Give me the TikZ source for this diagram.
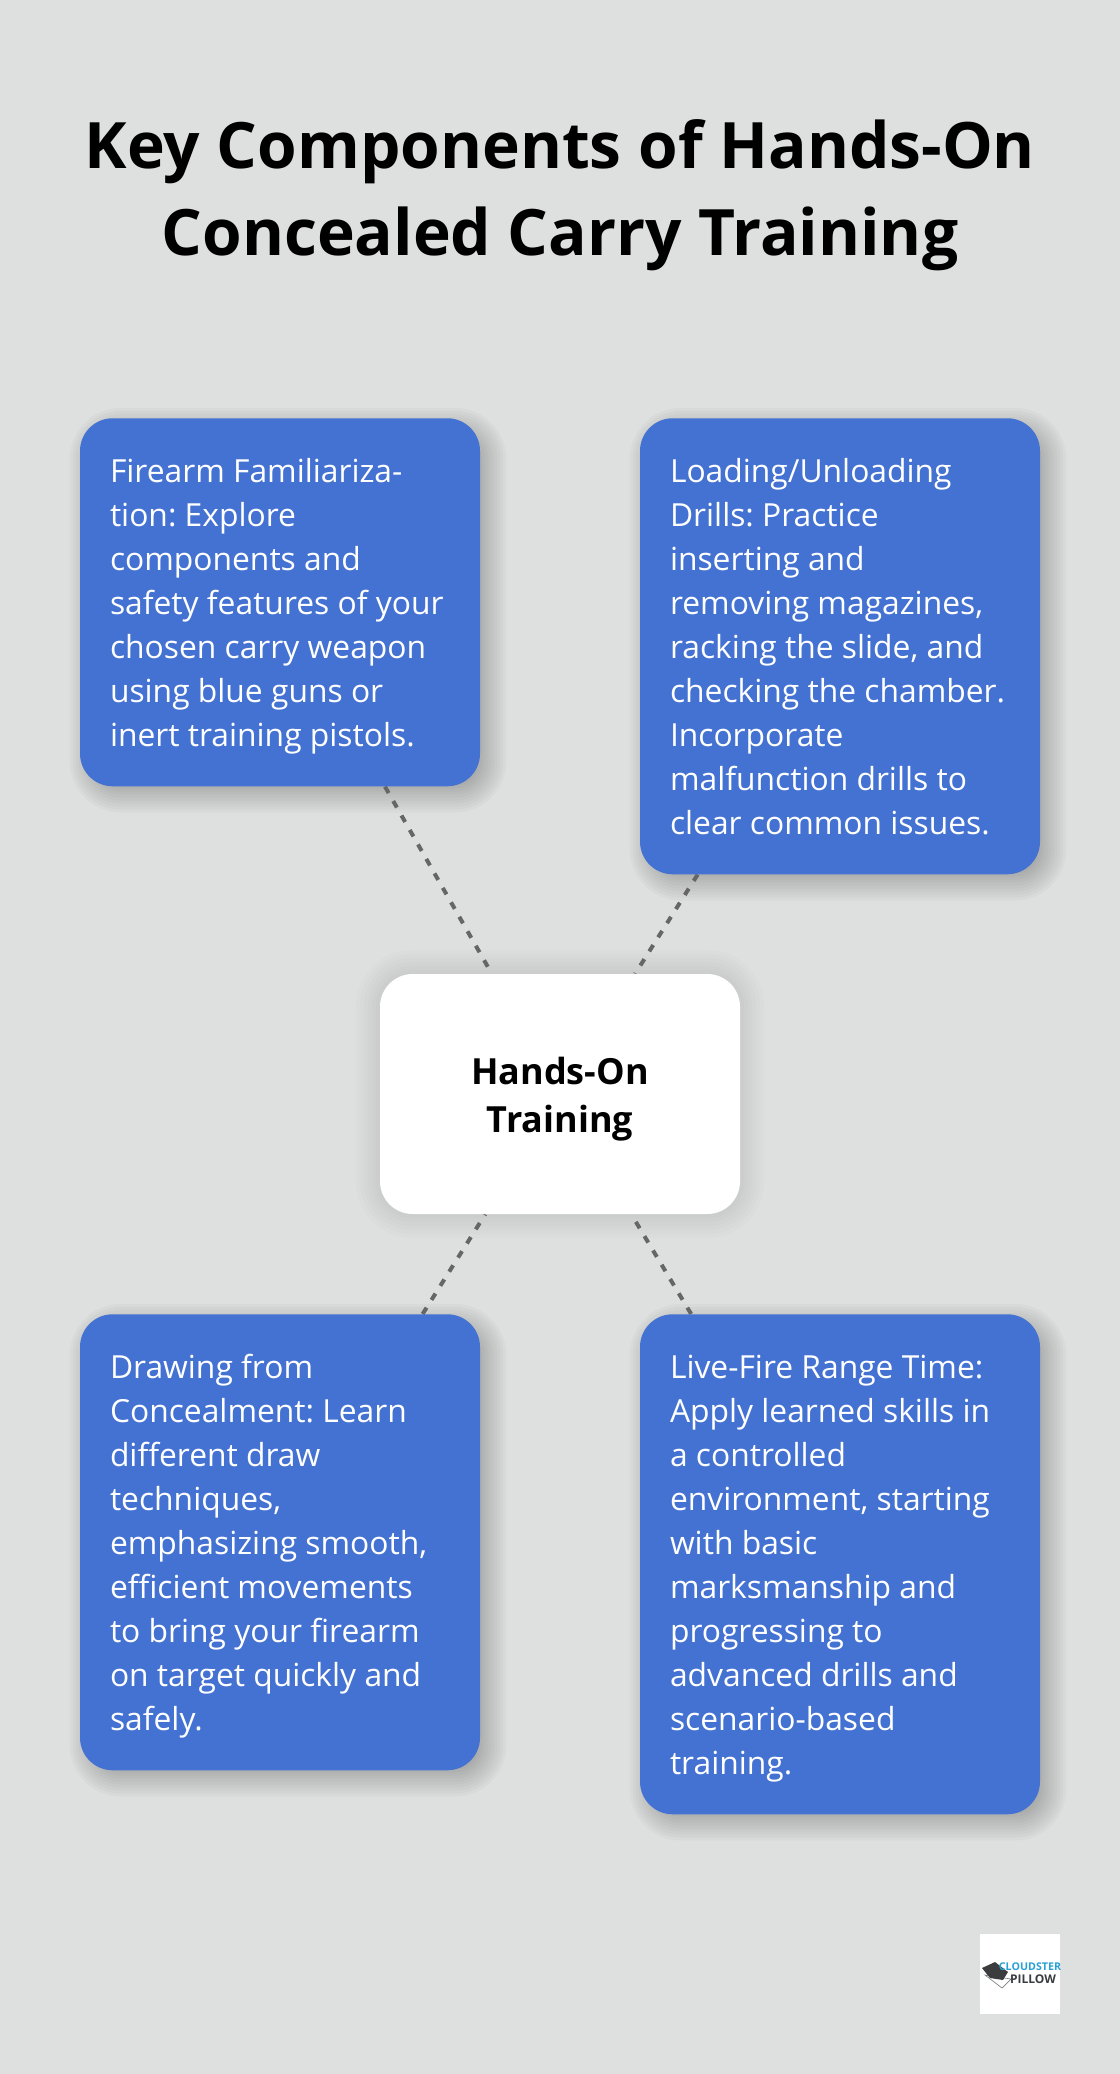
\documentclass[tikz,border=0pt]{standalone}
\usepackage{fontspec}
\setmainfont{Open Sans}
\usepackage{tikz}
\usetikzlibrary{calc}
\usetikzlibrary{backgrounds}
\definecolor{pagegray}{HTML}{DEE0DF}
\definecolor{cardblue}{HTML}{4472D2}
\definecolor{dashgray}{HTML}{666666}
\definecolor{logoblue}{HTML}{2A9FD6}
\definecolor{logodark}{HTML}{3A3C3E}
\tikzset{
	card/.style={fill=cardblue,text=white,rounded corners=24.5pt,text width=255pt,inner sep=0pt,inner xsep=22.5pt,align=flush left,anchor=north,font=\fontsize{23.85}{33}\selectfont\frenchspacing,
		execute at begin node={\rule{0pt}{25.4pt}},execute at end node={\rule[-7.6pt]{0pt}{7.6pt}}},
	hub/.style={fill=white,rounded corners=24.5pt,text width=270pt,minimum height=180pt,inner sep=0pt,align=center,font=\fontsize{27}{36}\selectfont\bfseries,
		execute at begin node={\rule{0pt}{28.5pt}},execute at end node={\rule[-7.5pt]{0pt}{7.5pt}}},
	link/.style={draw=dashgray,line width=3pt,dash pattern=on 5.6pt off 6.9pt}
}
% soft shadow: node, x offset, y offset, spread, opacity of one layer
\newcommand{\softshadow}[5]{
	\foreach \s in {-12,-10,...,12} {
		\pgfmathsetmacro{\d}{\s*#4}
		\pgfmathsetmacro{\r}{max(1,(33+\d)*0.75)}
		\fill[black,fill opacity=#5,rounded corners=\r pt] ($(#1.north west)+(#2-\d,#3-\d)$) rectangle ($(#1.south east)+(#2+\d,#3+\d)$);
	}
}
\begin{document}
\begin{tikzpicture}[x=0.75pt,y=-0.75pt]
	\useasboundingbox (0,0) rectangle (1120,2074);

	\node[align=center,font=\fontsize{48}{65}\selectfont\bfseries] (title) at (560,195) {Key Components of Hands-On\\Concealed Carry Training};

	\coordinate (firepos) at (280,418);
	\coordinate (loadpos) at (840,418);
	\coordinate (drawpos) at (280,1314);
	\coordinate (rangepos) at (840,1314);

	\node[card,minimum height=276pt] (fire) at (firepos) {Firearm Familiariza-\\tion: Explore\\components and\\safety features of your\\chosen carry weapon\\using blue guns or\\inert training pistols.};
	\node[card,minimum height=342pt] (load) at (loadpos) {Loading/Unloading\\Drills: Practice\\inserting and\\removing magazines,\\racking the slide, and\\checking the chamber.\\Incorporate\\malfunction drills to\\clear common issues.};
	\node[card,minimum height=342pt] (draw) at (drawpos) {Drawing from\\Concealment: Learn\\different draw\\techniques,\\emphasizing smooth,\\efficient movements\\to bring your firearm\\on target quickly and\\safely.};
	\node[card,minimum height=375pt] (range) at (rangepos) {Live-Fire Range Time:\\Apply learned skills in\\a controlled\\environment, starting\\with basic\\marksmanship and\\progressing to\\advanced drills and\\scenario-based\\training.};
	\node[hub] (center) at (560,1094) {Hands-On\\Training};

	\begin{scope}[on background layer]
		\fill[pagegray] (0,0) rectangle (1120,2074);
		\softshadow{fire}{8}{8}{1.5}{0.025}
		\softshadow{load}{8}{8}{1.5}{0.025}
		\softshadow{draw}{8}{8}{1.5}{0.025}
		\softshadow{range}{8}{8}{1.5}{0.025}
		\softshadow{center}{0}{0}{2}{0.012}
		\draw[link] (fire) -- (center);
		\draw[link] (load) -- (center);
		\draw[link] (draw) -- (center);
		\draw[link] (range) -- (center);
	\end{scope}

	% logo in the corner
	\node[fill=white,minimum size=60pt,inner sep=0pt] (logo) at (1020,1974) {};
	\draw[gray,fill=white,line width=0.5pt] (985,1975) -- (1002,1988) -- (1011,1979) -- cycle;
	\fill[logodark] (982,1968) -- (995,1962) -- (1008,1972) -- (1003,1980) -- (990,1978) -- cycle;
	\node[inner sep=0pt,text=logoblue,font=\fontsize{8}{8}\selectfont\bfseries] (logotop) at (1030,1967) {CLOUDSTER};
	\node[inner sep=0pt,text=logodark,font=\fontsize{9}{9}\selectfont\bfseries] (logobottom) at (1033,1979) {PILLOW};
\end{tikzpicture}
\end{document}
